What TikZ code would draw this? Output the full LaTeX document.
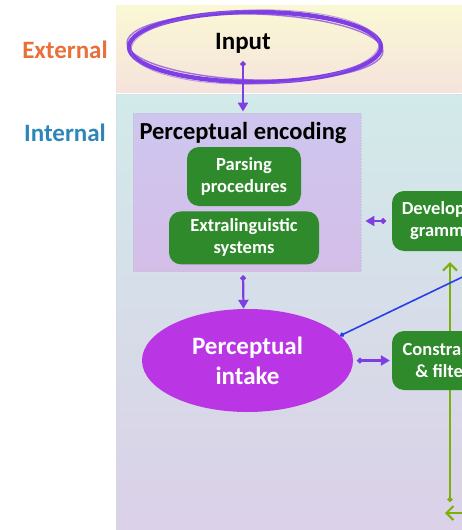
\documentclass[tikz,border=0pt]{standalone}
\usepackage{fontspec}
\setmainfont{Carlito}
\usepackage{xcolor}
\usepackage{tikz}
\usetikzlibrary{shapes, arrows.meta, positioning, backgrounds}
\definecolor{inkpurple}{RGB}{126,62,226}
\definecolor{intakepink}{RGB}{186,54,228}
\definecolor{boxgreen}{RGB}{46,138,42}
\definecolor{growgreen}{RGB}{122,176,10}
\definecolor{linkblue}{RGB}{40,62,232}
\definecolor{extorange}{RGB}{232,112,58}
\definecolor{intblue}{RGB}{46,134,184}
\definecolor{enctop}{RGB}{206,198,238}
\definecolor{encbottom}{RGB}{212,190,232}
\definecolor{exttop}{RGB}{250,248,212}
\definecolor{extbottom}{RGB}{245,227,220}
\definecolor{inttop}{RGB}{210,234,233}
\definecolor{intbottom}{RGB}{219,208,232}
\tikzset{
    base/.style={font=\bfseries, align=center, inner sep=0pt},
    side/.style={base, font=\fontsize{25}{27}\selectfont\bfseries},
    gbox/.style={base, rectangle, rounded corners=12pt, fill=boxgreen, text=white, font=\fontsize{18.5}{22}\selectfont\bfseries},
    encbox/.style={rectangle, draw=teal!25!gray!45, dotted, thick, top color=enctop, bottom color=encbottom},
    line/.style={draw=inkpurple, line width=2.2pt, {Circle[length=5.5pt]}-{Triangle[length=9pt, width=10pt]}},
    growline/.style={draw=growgreen, line width=2pt, {Circle[length=5pt]}-{Straight Barb[length=7pt, width=14pt]}}
}

\begin{document}
\begin{tikzpicture}[x=1pt, y=-1pt]
    \useasboundingbox (0,0) rectangle (462,530);
    \clip (0,0) rectangle (462,530);

    % bands
    \path [top color=exttop, bottom color=extbottom] (116,5) rectangle (480,92);
    \path [top color=inttop, bottom color=intbottom, draw=cyan!20!gray!35, dotted, thick] (116,94) rectangle (480,540);
    \node [side, text=extorange] (External) at (65,50) {External};
    \node [side, text=intblue] (Internal) at (65,133) {Internal};

    % input
    \node [ellipse, draw=inkpurple, line width=4.4pt, minimum width=252pt, minimum height=70pt] (InputRing) at (255,47) {};
    \draw [inkpurple, line width=1.4pt, opacity=.7, rotate around={-2:(InputRing.center)}] (InputRing.center) ellipse (128 and 33);
    \draw [inkpurple!80, line width=0.9pt, opacity=.6, rotate around={1.5:(InputRing.center)}] (InputRing.center) ellipse (124 and 37);
    \node [side] (Input) at (243,43) {Input};

    % encoding
    \node [encbox, minimum width=228pt, minimum height=158pt] (Encoding) at (247,192) {};
    \node [base, font=\fontsize{24.5}{26}\selectfont\bfseries] (EncTitle) at (243,133) {Perceptual encoding};
    \node [gbox, minimum width=114pt, minimum height=59pt] (Parsing) at (244,176.5) {Parsing\\procedures};
    \node [gbox, minimum width=150pt, minimum height=53pt, below=5pt of Parsing] (Extra) {Extralinguistic\\systems};

    % intake
    \node [ellipse, fill=intakepink, text=white, base, font=\fontsize{25}{30}\selectfont\bfseries, minimum width=211pt, minimum height=103pt] (Intake) at (247.5,360.5) {Perceptual\\intake};

    % right column
    \node [gbox, minimum width=106pt, minimum height=60pt] (Develop) at (445,221) {Developing\\grammar};
    \coordinate (GrowBase) at (450,502);
    \path [growline, shorten >=11pt] (GrowBase) -- (Develop.south -| GrowBase);
    \node [gbox, minimum width=108pt, minimum height=59pt] (Constraints) at (446,360.5) {Constraints\\\& filters};

    \coordinate (BlueEnd) at (600,211);
    \coordinate (FeedFrom) at (490,513);
    \coordinate (FeedTip) at (445,513);

    \path [line, shorten <=8pt, shorten >=1pt] (Input.south) -- (Input |- Encoding.north);
    \path [line, shorten <=4pt] ([xshift=-4pt]Encoding.south) -- ([xshift=-4pt]Intake.north);
    \path [line, shorten <=4pt, shorten >=2pt] (Intake.east) -- (Constraints.west);
    \path [line, shorten <=6pt, shorten >=4pt] (Develop.west) -- (Develop.west -| Encoding.east);
    \draw [linkblue, line width=1.6pt, {Circle[length=4.5pt]}-] (Intake.15) -- (BlueEnd);
    \draw [growgreen, line width=2pt, -{Straight Barb[length=7pt, width=14pt]}] (FeedFrom) -- (FeedTip);
\end{tikzpicture}
\end{document}
